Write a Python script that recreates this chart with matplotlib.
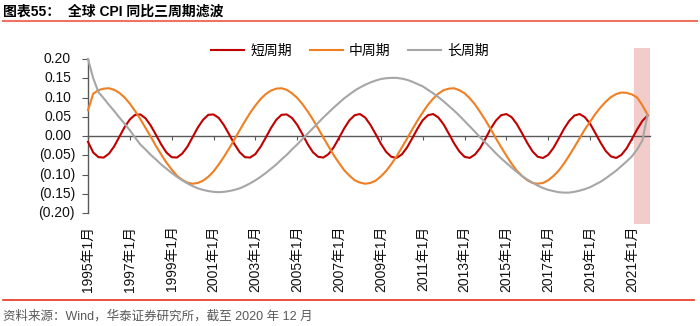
import numpy as np
import matplotlib
matplotlib.use("Agg")
import matplotlib.pyplot as plt
from matplotlib.lines import Line2D
from matplotlib.patches import Rectangle

plt.rcParams['font.family'] = ['Liberation Sans', 'Noto Sans CJK SC']

# mois depuis janvier 1995, un point par trimestre
months = np.arange(0, 322, 3)

short_cycle = [
    -0.015, -0.043, -0.055, -0.056, -0.046, -0.027, -0.002, 0.023, 0.043, 0.055,
    0.056, 0.046, 0.027, 0.003, -0.022, -0.043, -0.055, -0.056, -0.046, -0.028,
    -0.003, 0.022, 0.042, 0.055, 0.056, 0.047, 0.028, 0.004, -0.021, -0.042,
    -0.055, -0.056, -0.047, -0.028, -0.004, 0.021, 0.042, 0.055, 0.056, 0.047,
    0.029, 0.005, -0.021, -0.042, -0.054, -0.056, -0.047, -0.029, -0.005, 0.020,
    0.041, 0.054, 0.057, 0.048, 0.029, 0.005, -0.020, -0.041, -0.054, -0.057,
    -0.048, -0.030, -0.006, 0.019, 0.041, 0.054, 0.057, 0.048, 0.030, 0.006,
    -0.019, -0.040, -0.054, -0.057, -0.048, -0.031, -0.007, 0.019, 0.040, 0.054,
    0.057, 0.049, 0.031, 0.007, -0.018, -0.040, -0.054, -0.057, -0.049, -0.031,
    -0.007, 0.018, 0.039, 0.053, 0.057, 0.049, 0.032, 0.008, -0.017, -0.039,
    -0.053, -0.057, -0.049, -0.032, -0.008, 0.017, 0.039, 0.053,
]

mid_cycle = [
    0.067, 0.110, 0.119, 0.123, 0.124, 0.120, 0.112, 0.100, 0.084, 0.065,
    0.044, 0.021, -0.002, -0.026, -0.048, -0.069, -0.087, -0.103, -0.114, -0.121,
    -0.124, -0.122, -0.116, -0.106, -0.092, -0.074, -0.054, -0.032, -0.009, 0.015,
    0.038, 0.060, 0.079, 0.096, 0.109, 0.118, 0.123, 0.124, 0.120, 0.111,
    0.099, 0.083, 0.064, 0.043, 0.020, -0.004, -0.027, -0.050, -0.070, -0.089,
    -0.103, -0.115, -0.121, -0.124, -0.122, -0.116, -0.105, -0.091, -0.073, -0.053,
    -0.030, -0.007, 0.017, 0.040, 0.061, 0.081, 0.097, 0.110, 0.119, 0.123,
    0.124, 0.119, 0.111, 0.098, 0.082, 0.062, 0.041, 0.018, -0.006, -0.029,
    -0.051, -0.072, -0.090, -0.104, -0.115, -0.122, -0.124, -0.122, -0.115, -0.104,
    -0.090, -0.072, -0.051, -0.029, -0.006, 0.017, 0.037, 0.057, 0.074, 0.089,
    0.101, 0.109, 0.113, 0.112, 0.108, 0.100, 0.080, 0.055,
]

long_cycle = [
    0.200, 0.150, 0.114, 0.098, 0.081, 0.065, 0.048, 0.032, 0.015, -0.004,
    -0.022, -0.035, -0.049, -0.061, -0.074, -0.085, -0.096, -0.106, -0.115, -0.123,
    -0.130, -0.136, -0.140, -0.143, -0.145, -0.146, -0.145, -0.143, -0.140, -0.136,
    -0.130, -0.123, -0.115, -0.106, -0.096, -0.085, -0.074, -0.061, -0.049, -0.035,
    -0.022, -0.008, 0.006, 0.020, 0.034, 0.048, 0.061, 0.074, 0.086, 0.098,
    0.108, 0.118, 0.126, 0.133, 0.139, 0.144, 0.148, 0.150, 0.151, 0.151,
    0.149, 0.146, 0.141, 0.135, 0.129, 0.120, 0.111, 0.101, 0.090, 0.078,
    0.066, 0.053, 0.039, 0.025, 0.011, -0.004, -0.017, -0.031, -0.045, -0.058,
    -0.070, -0.082, -0.093, -0.104, -0.113, -0.121, -0.129, -0.135, -0.140, -0.143,
    -0.146, -0.147, -0.147, -0.145, -0.142, -0.138, -0.133, -0.126, -0.119, -0.110,
    -0.100, -0.090, -0.078, -0.066, -0.053, -0.035, -0.012, 0.055,
]

series_names = ['短周期', '中周期', '长周期']
series_colors = ['#C00000', '#F07F22', '#A6A6A6']

tick_months = [0, 24, 48, 72, 96, 120, 144, 168, 192, 216, 240, 264, 288, 312]
tick_labels = ['1995年1月', '1997年1月', '1999年1月', '2001年1月', '2003年1月',
               '2005年1月', '2007年1月', '2009年1月', '2011年1月', '2013年1月',
               '2015年1月', '2017年1月', '2019年1月', '2021年1月']

y_ticks = [0.20, 0.15, 0.10, 0.05, 0.00, -0.05, -0.10, -0.15, -0.20]
y_labels = ['0.20', '0.15', '0.10', '0.05', '0.00',
            '(0.05)', '(0.10)', '(0.15)', '(0.20)']

# zone grisée en fin de période (en mois)
shade_span = (313.5, 322.4)

axis_color = '#595959'

fig = plt.figure(figsize=(7, 3.26), dpi=100)
ax = fig.add_axes([88 / 700, 113 / 326, 562 / 700, 154 / 326])
ax.set_xlim(0, 322.4)
ax.set_ylim(-0.2, 0.2)

ax.add_patch(Rectangle((shade_span[0], -0.229), shade_span[1] - shade_span[0], 0.458,
                       color='#F2CBCB', lw=0, zorder=0, clip_on=False))

for vals, name, col in zip([short_cycle, mid_cycle, long_cycle], series_names, series_colors):
    ax.plot(months, vals, color=col, lw=1.5, label=name, zorder=3, clip_on=False)

# axe horizontal sur le zero
for s in ['top', 'right']:
    ax.spines[s].set_visible(False)
ax.spines['bottom'].set_position(('data', 0))
ax.spines['bottom'].set_color(axis_color)
ax.spines['left'].set_color(axis_color)
ax.spines['bottom'].set_linewidth(1.0)
ax.spines['left'].set_linewidth(1.0)
ax.set_xticks(tick_months)
ax.tick_params(axis='x', direction='out', length=3, color=axis_color, labelbottom=False)

ax.set_yticks(y_ticks)
ax.set_yticklabels([])
ax.tick_params(axis='y', direction='out', length=4, color=axis_color)
for v, lab in zip(y_ticks, y_labels):
    xoff = -0.0231 if lab.startswith('(') else -0.0302
    ax.text(xoff, v, lab, transform=ax.get_yaxis_transform(), ha='right', va='center',
            fontsize=10, color='#111111')

# etiquettes des dates en bas
sec = ax.secondary_xaxis('bottom')
sec.set_xticks(tick_months, labels=tick_labels, rotation=90, fontsize=10, color='#111111')
sec.tick_params(length=0, pad=9)
sec.spines['bottom'].set_visible(False)

handles = [Line2D([], [], color=c, lw=1.5) for c in series_colors]
fig.legend(handles, series_names, loc='center', bbox_to_anchor=(0.5, 1 - 51 / 326),
           ncol=3, frameon=False, handlelength=2.37, handletextpad=0.43,
           columnspacing=1.3, fontsize=10)

fig.text(3 / 700, 1 - 12 / 326, '图表55：  全球 CPI 同比三周期滤波', fontsize=10,
         fontweight='bold', ha='left', va='center')
fig.add_artist(Line2D([0.004, 0.996], [1 - 20.5 / 326] * 2, transform=fig.transFigure,
                      color='#EE7361', lw=1.5))
fig.add_artist(Line2D([3 / 700, 694 / 700], [1 - 300 / 326] * 2, transform=fig.transFigure,
                      color='#E8321E', lw=1.2))
fig.text(3 / 700, 1 - 316 / 326, '资料来源：Wind，华泰证券研究所，截至 2020 年 12 月',
         fontsize=9, color='#595959', ha='left', va='center')

fig.savefig('out.png', dpi=100)
